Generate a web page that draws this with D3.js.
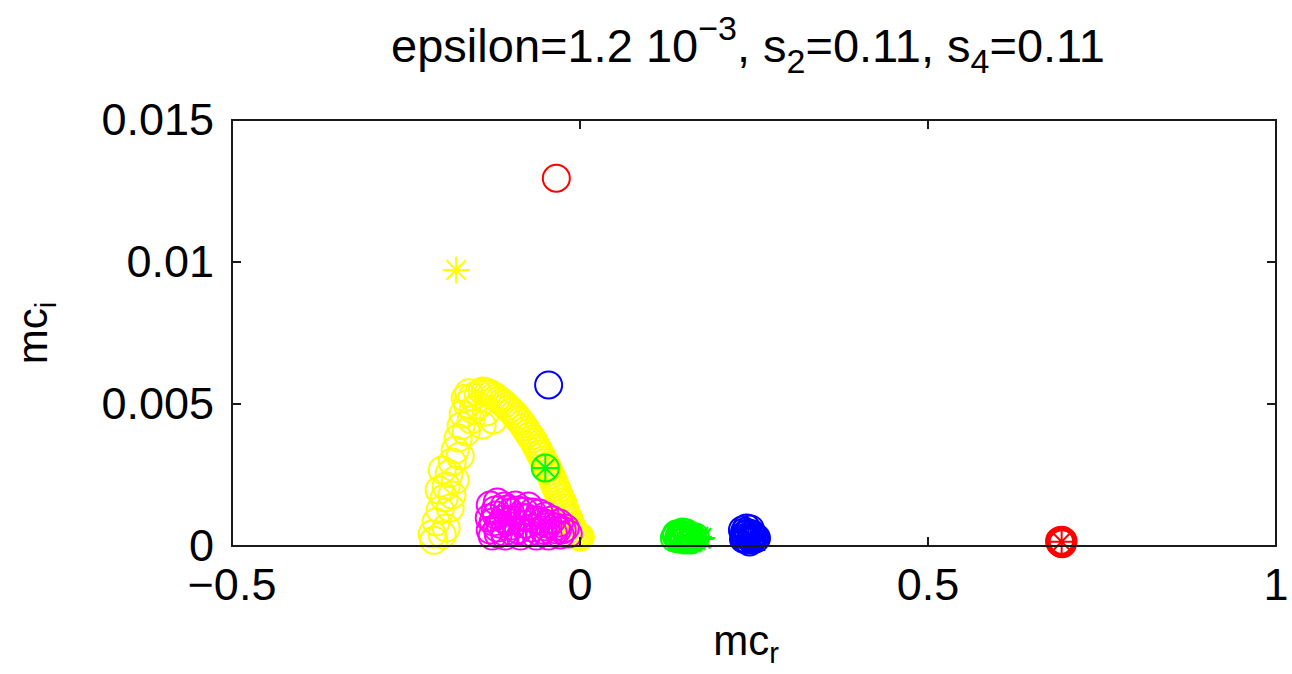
<!DOCTYPE html>
<html>
<head>
<meta charset="utf-8">
<script src="https://cdn.jsdelivr.net/npm/d3@7"></script>
<style>
  body { margin: 0; background: #fff; }
  text { font-family: "Liberation Sans", Arial, sans-serif; fill: #000; }
</style>
</head>
<body>
<script>
// mc_r / mc_i scatter, matlab look

var width = 1292;
var height = 674;

// data: [mc_r, mc_i]
var xTicks = [-0.5, 0, 0.5, 1];
var yTicks = [0, 0.005, 0.01, 0.015];
var xTickLabels = ["\u22120.5", "0", "0.5", "1"];
var yTickLabels = ["0", "0.005", "0.01", "0.015"];

var yellowCircles = [
  // left leg
  [-0.2124, 0.00042], [-0.2067, 0.00085], [-0.1923, 0.00063], [-0.2009, 0.00127],
  [-0.1952, 0.00169], [-0.1866, 0.00134], [-0.2024, 0.00197], [-0.1923, 0.00211],
  [-0.1980, 0.00268], [-0.1880, 0.00254], [-0.1794, 0.00232], [-0.1837, 0.00296],
  [-0.1794, 0.00338], [-0.1722, 0.00317], [-0.1751, 0.00380], [-0.1708, 0.00423],
  [-0.1636, 0.00401], [-0.1679, 0.00465], [-0.1621, 0.00500], [-0.1535, 0.00479],
  [-0.1550, 0.00525], [-0.1463, 0.00535], [-0.1600, 0.00540], [-0.1650, 0.00520],
  [-0.2100, 0.00020], [-0.1980, 0.00040], [-0.1840, 0.00180],
  // top inner
  [-0.1463, 0.00496], [-0.1348, 0.00472], [-0.1247, 0.00444], [-0.1564, 0.00444],
  [-0.1406, 0.00426],
  // right side (dense)
  [-0.1405, 0.00546], [-0.1319, 0.00539], [-0.1233, 0.00528], [-0.1161, 0.00514],
  [-0.1089, 0.00500], [-0.1017, 0.00482], [-0.0945, 0.00465], [-0.0887, 0.00447],
  [-0.0830, 0.00430], [-0.0772, 0.00408], [-0.0715, 0.00387], [-0.0657, 0.00366],
  [-0.0614, 0.00345], [-0.0571, 0.00324], [-0.0527, 0.00303], [-0.0484, 0.00282],
  [-0.0441, 0.00261], [-0.0398, 0.00239], [-0.0370, 0.00218], [-0.0327, 0.00197],
  [-0.0298, 0.00176], [-0.0255, 0.00155], [-0.0226, 0.00134], [-0.0197, 0.00113],
  [-0.0154, 0.00092], [-0.0125, 0.00070], [-0.0082, 0.00053], [-0.0039, 0.00039],
  [0.0004, 0.00032],
  [-0.1362, 0.00543], [-0.1276, 0.00534], [-0.1197, 0.00521], [-0.1125, 0.00507],
  [-0.1053, 0.00491], [-0.0981, 0.00474], [-0.0916, 0.00456], [-0.0859, 0.00439],
  [-0.0801, 0.00419], [-0.0744, 0.00398], [-0.0686, 0.00377], [-0.0636, 0.00356],
  [-0.0593, 0.00335], [-0.0549, 0.00314], [-0.0506, 0.00293], [-0.0463, 0.00272],
  [-0.0420, 0.00250], [-0.0384, 0.00229], [-0.0349, 0.00208], [-0.0313, 0.00187],
  [-0.0277, 0.00166], [-0.0241, 0.00145], [-0.0212, 0.00124], [-0.0176, 0.00103],
  [-0.0140, 0.00081], [-0.0104, 0.00062], [-0.0061, 0.00046], [-0.0018, 0.00036]
];
var yellowStars = [[-0.178, 0.00972]];

var magentaCircles = [
  [-0.1290, 0.00144], [-0.1189, 0.00155], [-0.1088, 0.00141], [-0.1304, 0.00099],
  [-0.1204, 0.00109], [-0.1103, 0.00095], [-0.1002, 0.00120], [-0.0902, 0.00127],
  [-0.0801, 0.00123], [-0.0686, 0.00120], [-0.0585, 0.00116], [-0.0499, 0.00106],
  [-0.0398, 0.00092], [-0.0298, 0.00081], [-0.0211, 0.00063], [-0.0168, 0.00042],
  [-0.1290, 0.00056], [-0.1189, 0.00063], [-0.1088, 0.00049], [-0.0988, 0.00070],
  [-0.0887, 0.00056], [-0.0787, 0.00077], [-0.0686, 0.00063], [-0.0585, 0.00049],
  [-0.0484, 0.00067], [-0.0384, 0.00046], [-0.0283, 0.00039], [-0.1261, 0.00035],
  [-0.1074, 0.00035], [-0.0859, 0.00035], [-0.0628, 0.00035], [-0.0456, 0.00035],
  [-0.0973, 0.00092], [-0.0758, 0.00099], [-0.0542, 0.00085], [-0.0327, 0.00056],
  [-0.0930, 0.00144], [-0.0744, 0.00141], [-0.1146, 0.00077],
  [-0.1218, 0.00127], [-0.1045, 0.00130], [-0.0830, 0.00102], [-0.0628, 0.00092],
  [-0.0456, 0.00077], [-0.0255, 0.00056], [-0.1175, 0.00042], [-0.0959, 0.00049],
  [-0.0744, 0.00046], [-0.0527, 0.00056], [-0.0341, 0.00067], [-0.1031, 0.00085],
  [-0.1247, 0.00085]
];

var greenCircles = [
  [-0.0499, 0.00275],
  [0.1385, 0.00035], [0.1442, 0.00042], [0.1500, 0.00039], [0.1557, 0.00035],
  [0.1413, 0.00025], [0.1500, 0.00021], [0.1586, 0.00021], [0.1471, 0.00049],
  [0.1529, 0.00046], [0.1615, 0.00032], [0.1356, 0.00028], [0.1428, 0.00032],
  [0.1471, 0.00025], [0.1543, 0.00025], [0.1615, 0.00025], [0.1658, 0.00032],
  [0.1385, 0.00042], [0.1471, 0.00035], [0.1557, 0.00028]
];
var greenStars = [
  [-0.0499, 0.00275],
  [0.1442, 0.00035], [0.1529, 0.00032], [0.1615, 0.00028], [0.1673, 0.00028],
  [0.1730, 0.00025], [0.1586, 0.00035], [0.1701, 0.00032], [0.1658, 0.00021],
  [0.1745, 0.00028]
];

var blueCircles = [
  [-0.0451, 0.00567],
  [0.2334, 0.00056], [0.2392, 0.00063], [0.2449, 0.00060], [0.2363, 0.00039],
  [0.2421, 0.00035], [0.2478, 0.00032], [0.2521, 0.00025], [0.2392, 0.00021],
  [0.2464, 0.00021], [0.2349, 0.00025], [0.2363, 0.00049], [0.2421, 0.00046],
  [0.2478, 0.00042], [0.2507, 0.00032], [0.2449, 0.00028], [0.2392, 0.00042],
  [0.2536, 0.00028], [0.2363, 0.00028], [0.2435, 0.00014]
];
var blueStars = [
  [0.2421, 0.00028], [0.2478, 0.00025], [0.2507, 0.00021], [0.2392, 0.00032],
  [0.2449, 0.00035], [0.2363, 0.00021], [0.2521, 0.00018]
];

var redCircles = [
  [-0.034, 0.01295], [0.692, 0.00015], [0.690, 0.00012], [0.694, 0.00018],
  [0.692, 0.00020], [0.691, 0.00010], [0.693, 0.00008], [0.689, 0.00018]
];
var redStars = [[0.692, 0.00015]];

var margin = { left: 232, right: 16, top: 120, bottom: 128 };

var x = d3.scaleLinear().domain([-0.5, 1]).range([margin.left, width - margin.right]);
var y = d3.scaleLinear().domain([0, 0.015]).range([height - margin.bottom, margin.top]);

var svg = d3.select("body").append("svg")
    .attr("width", width)
    .attr("height", height);

var R = 13.5;

var starPath = function(r) {
  var d = r * 0.72;
  return "M" + (-r) + ",0L" + r + ",0" +
         "M0," + (-r) + "L0," + r +
         "M" + (-d) + "," + (-d) + "L" + d + "," + d +
         "M" + (-d) + "," + d + "L" + d + "," + (-d);
};

var drawCircles = function(data, color) {
  svg.append("g").selectAll("circle")
    .data(data)
    .enter()
    .append("circle")
    .attr("cx", function(d) { return x(d[0]); })
    .attr("cy", function(d) { return y(d[1]); })
    .attr("r", R)
    .attr("fill", "none")
    .attr("stroke", color)
    .attr("stroke-width", 2);
};

var drawStars = function(data, color) {
  svg.append("g").selectAll("path")
    .data(data)
    .enter()
    .append("path")
    .attr("d", starPath(13.5))
    .attr("transform", function(d) { return "translate(" + x(d[0]) + "," + y(d[1]) + ")"; })
    .attr("fill", "none")
    .attr("stroke", color)
    .attr("stroke-width", 2);
};

var x0 = x(-0.5), x1 = x(1), y0 = y(0), y1 = y(0.015);
var tl = 9;

drawCircles(yellowCircles, "#ffff00");
drawStars(yellowStars, "#ffff00");
drawCircles(magentaCircles, "#ff00ff");
drawCircles(greenCircles, "#00ff00");
drawStars(greenStars, "#00ff00");
drawCircles(blueCircles, "#0000ff");
drawStars(blueStars, "#0000ff");
drawCircles(redCircles, "#ff0000");
drawStars(redStars, "#ff0000");

// frame + ticks
var frame = svg.append("g")
    .attr("fill", "none")
    .attr("stroke", "#1a1a1a")
    .attr("stroke-width", 2);

frame.append("rect")
    .attr("x", x0).attr("y", y1)
    .attr("width", x1 - x0).attr("height", y0 - y1);

frame.selectAll("line.xt")
    .data(xTicks)
    .enter()
    .append("line")
    .attr("class", "xt")
    .attr("x1", function(d) { return x(d); })
    .attr("x2", function(d) { return x(d); })
    .attr("y1", y0).attr("y2", y0 - tl);
frame.selectAll("line.xtt")
    .data(xTicks)
    .enter()
    .append("line")
    .attr("class", "xtt")
    .attr("x1", function(d) { return x(d); })
    .attr("x2", function(d) { return x(d); })
    .attr("y1", y1).attr("y2", y1 + tl);
frame.selectAll("line.yt")
    .data(yTicks)
    .enter()
    .append("line")
    .attr("class", "yt")
    .attr("y1", function(d) { return y(d); })
    .attr("y2", function(d) { return y(d); })
    .attr("x1", x0).attr("x2", x0 + tl);
frame.selectAll("line.ytr")
    .data(yTicks)
    .enter()
    .append("line")
    .attr("class", "ytr")
    .attr("y1", function(d) { return y(d); })
    .attr("y2", function(d) { return y(d); })
    .attr("x1", x1).attr("x2", x1 - tl);

// tick labels
svg.selectAll("text.xl")
    .data(xTicks)
    .enter()
    .append("text")
    .attr("class", "xl")
    .attr("x", function(d) { return x(d); })
    .attr("y", y0 + 54)
    .attr("text-anchor", "middle")
    .attr("font-size", 45)
    .text(function(d, i) { return xTickLabels[i]; });

svg.selectAll("text.yl")
    .data(yTicks)
    .enter()
    .append("text")
    .attr("class", "yl")
    .attr("x", x0 - 18)
    .attr("y", function(d) { return y(d) + 15; })
    .attr("text-anchor", "end")
    .attr("font-size", 45)
    .text(function(d, i) { return yTickLabels[i]; });

// axis labels
var xlab = svg.append("text")
    .attr("x", (x0 + x1) / 2 - 8)
    .attr("y", 655)
    .attr("text-anchor", "middle")
    .attr("font-size", 42);
xlab.append("tspan").text("mc");
xlab.append("tspan").attr("font-size", 29).attr("dy", 8).text("r");

var ylab = svg.append("text")
    .attr("transform", "translate(47," + ((y0 + y1) / 2) + ") rotate(-90)")
    .attr("text-anchor", "middle")
    .attr("font-size", 42);
ylab.append("tspan").text("mc");
ylab.append("tspan").attr("font-size", 29).attr("dy", 9).text("i");

// title
var title = svg.append("text")
    .attr("x", (x0 + x1) / 2 - 6)
    .attr("y", 62)
    .attr("text-anchor", "middle")
    .attr("font-size", 47);
title.append("tspan").text("epsilon=1.2 10");
title.append("tspan").attr("font-size", 34).attr("dy", -22).text("\u22123");
title.append("tspan").attr("dy", 22).text(", s");
title.append("tspan").attr("font-size", 34).attr("dy", 11).text("2");
title.append("tspan").attr("dy", -11).text("=0.11, s");
title.append("tspan").attr("font-size", 34).attr("dy", 11).text("4");
title.append("tspan").attr("dy", -11).text("=0.11");
</script>
</body>
</html>
